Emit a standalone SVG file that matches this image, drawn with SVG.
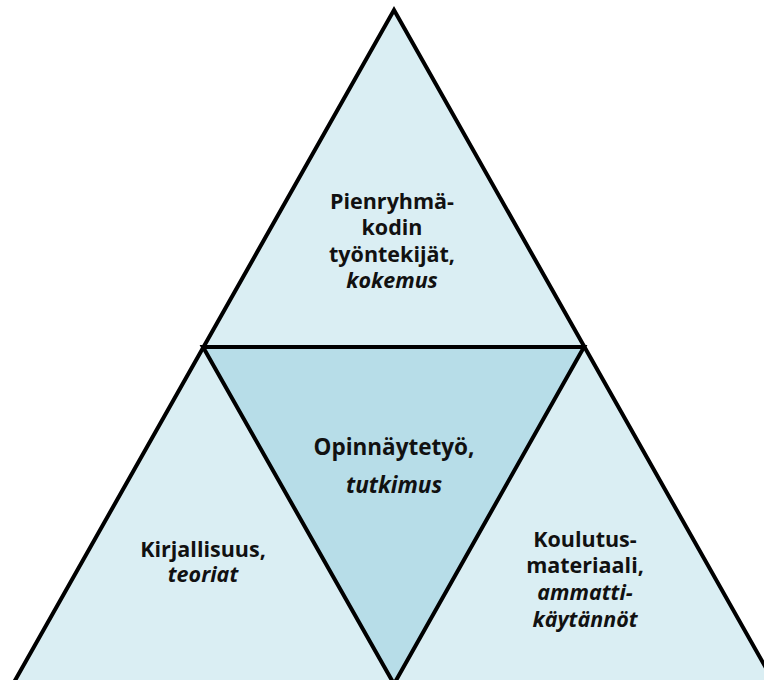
<svg xmlns="http://www.w3.org/2000/svg" width="764" height="680" viewBox="0 0 764 680">
<style>
.outer{fill:#DAEEF3;stroke:#000;stroke-width:4;stroke-linejoin:miter}
.inner{fill:#B7DDE8;stroke:#000;stroke-width:4;stroke-linejoin:miter}
text{font-family:"Open Sans","Liberation Sans",sans-serif;font-size:21.5px;font-weight:bold;fill:#111;text-anchor:middle}
.it{font-style:italic}
.c{font-size:22.5px}
</style>
<rect width="764" height="680" fill="#fff"/>
<g id="outer-triangle"><polygon class="outer" points="394,10 775,684 13,684"/></g>
<g id="connectors"><line x1="203" y1="347" x2="584" y2="347" stroke="#000" stroke-width="4"/></g>
<g id="center"><polygon class="inner" points="203,347 584,347 394,684"/>
<text x="394" y="455" class="c">Opinnäytetyö,</text><text x="394" y="493" class="c it">tutkimus</text></g>
<g id="top"><text x="392" y="209">Pienryhmä-</text><text x="392" y="235">kodin</text><text x="392" y="262">työntekijät,</text><text x="392" y="288" class="it">kokemus</text></g>
<g id="left"><text x="203" y="557">Kirjallisuus,</text><text x="203" y="582" class="it">teoriat</text></g>
<g id="right"><text x="585" y="547">Koulutus-</text><text x="585" y="573">materiaali,</text><text x="585" y="600" class="it">ammatti-</text><text x="585" y="627" class="it">käytännöt</text></g>
</svg>
